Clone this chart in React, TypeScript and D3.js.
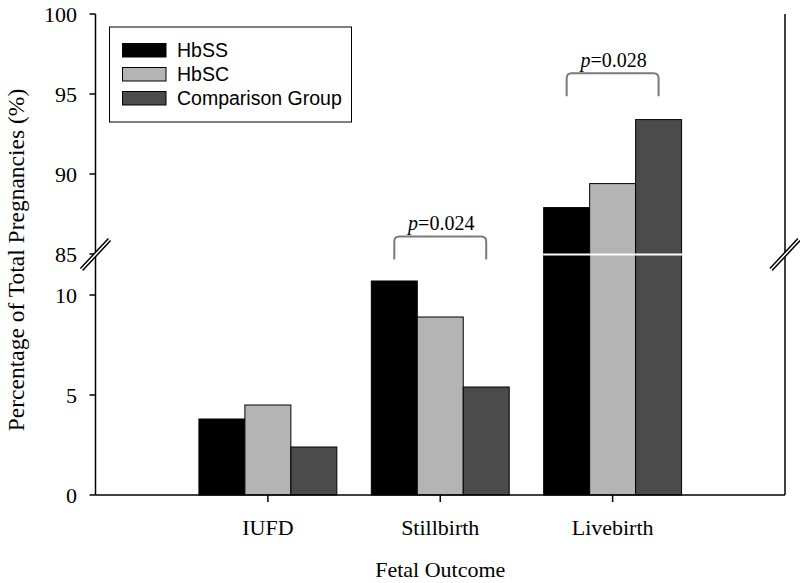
import React from "react";
import * as d3 from "d3";

const categories = ["IUFD", "Stillbirth", "Livebirth"];
const seriesNames = ["HbSS", "HbSC", "Comparison Group"];
const hbss = [3.8, 10.7, 87.9];
const hbsc = [4.5, 8.9, 89.4];
const comparison = [2.4, 5.4, 93.4];
const seriesColors = ["#000000", "#b4b4b4", "#4b4b4b"];
const lowerTicks = [0, 5, 10];
const upperTicks = [85, 90, 95, 100];
const lowerDomain = [0, 12];
const upperDomain = [85, 100];
const pAnnotations = [
  { cat: 1, from: 0, to: 2, label: "=0.024", top: 86.1 },
  { cat: 2, from: 0, to: 2, label: "=0.028", top: 96.3 },
];

const W = 800;
const H = 583;
const left = 95.5;
const right = 785;
const bottom = 495;
const top = 14;
const breakY = 254.5;

export default function App() {
  const x = d3.scaleLinear().domain([0, categories.length + 1]).range([left, right]);
  const yLow = d3.scaleLinear().domain(lowerDomain).range([bottom, 255]);
  const yUp = d3.scaleLinear().domain(upperDomain).range([254, top]);
  const yv = (v: number) => (v <= lowerDomain[1] ? yLow(v) : yUp(v));
  const series = [hbss, hbsc, comparison];
  const groupW = 0.8;
  const barW = groupW / series.length;
  const barX = (ci: number, si: number) => x(ci + 1 - groupW / 2 + si * barW);
  const serif = "'Liberation Serif', 'Times New Roman', serif";
  const sans = "'Liberation Sans', Arial, sans-serif";

  const breakMark = (cx: number) => (
    <g>
      <line x1={cx - 14} y1={breakY + 15} x2={cx + 14} y2={breakY - 15} stroke="#000" strokeWidth={4.5} />
      <line x1={cx - 14.5} y1={breakY + 15.5} x2={cx + 14.5} y2={breakY - 15.5} stroke="#fff" strokeWidth={1.5} />
    </g>
  );

  return (
    <svg width={W} height={H} style={{ position: "absolute", left: 0, top: 0, background: "#fff" }}>
      <rect width={W} height={H} fill="#fff" />
      {categories.map((c, ci) => (
        <g key={c}>
          {series.map((s, si) => {
            const v = s[ci];
            const x0 = barX(ci, si);
            const x1 = barX(ci, si + 1);
            return (
              <rect key={si} x={x0} y={yv(v)} width={x1 - x0} height={bottom - yv(v)}
                fill={seriesColors[si]} stroke="#000" strokeWidth={1} />
            );
          })}
          {series.some((s) => s[ci] > lowerDomain[1]) && (
            <line x1={barX(ci, 0) - 0.5} x2={barX(ci, series.length) + 0.5} y1={breakY} y2={breakY} stroke="#fff" strokeWidth={2} />
          )}
        </g>
      ))}
      <line x1={left} x2={left} y1={top} y2={bottom} stroke="#000" strokeWidth={1.5} />
      <line x1={right} x2={right} y1={top} y2={bottom} stroke="#000" strokeWidth={1.5} />
      <line x1={left} x2={right} y1={bottom} y2={bottom} stroke="#000" strokeWidth={1.5} />
      {lowerTicks.map((t) => (
        <g key={"l" + t}>
          <line x1={left - 6} x2={left} y1={yLow(t)} y2={yLow(t)} stroke="#000" strokeWidth={1.5} />
          <text x={77} y={yLow(t)} dy="0.35em" textAnchor="end" fontFamily={serif} fontSize={22}>{t}</text>
        </g>
      ))}
      {upperTicks.map((t) => (
        <g key={"u" + t}>
          <line x1={left - 6} x2={left} y1={yUp(t)} y2={yUp(t)} stroke="#000" strokeWidth={1.5} />
          <text x={77} y={yUp(t)} dy="0.35em" textAnchor="end" fontFamily={serif} fontSize={22}>{t}</text>
        </g>
      ))}
      {categories.map((c, ci) => (
        <g key={"x" + c}>
          <line x1={x(ci + 1)} x2={x(ci + 1)} y1={bottom} y2={bottom + 7} stroke="#000" strokeWidth={1.5} />
          <text x={x(ci + 1)} y={535} textAnchor="middle" fontFamily={serif} fontSize={22}>{c}</text>
        </g>
      ))}
      {breakMark(left)}
      {breakMark(right)}
      <text x={(left + right) / 2} y={577} textAnchor="middle" fontFamily={serif} fontSize={22}>Fetal Outcome</text>
      <text transform={`translate(24, 260) rotate(-90)`} textAnchor="middle" fontFamily={serif} fontSize={23.5}>
        Percentage of Total Pregnancies (%)
      </text>
      {pAnnotations.map((a, i) => {
        const xa = x(a.cat + 1 - groupW / 2 + (a.from + 0.5) * barW);
        const xb = x(a.cat + 1 - groupW / 2 + (a.to + 0.5) * barW);
        const yt = yUp(a.top);
        const leg = 23;
        const r = 5;
        const d = `M${xa},${yt + leg} L${xa},${yt + r} Q${xa},${yt} ${xa + r},${yt} L${xb - r},${yt} Q${xb},${yt} ${xb},${yt + r} L${xb},${yt + leg}`;
        return (
          <g key={"p" + i}>
            <path d={d} fill="none" stroke="#7a7a7a" strokeWidth={2} />
            <text x={(xa + xb) / 2 + 1} y={yt - 6.5} textAnchor="middle" fontFamily={serif} fontSize={20}>
              <tspan fontStyle="italic">p</tspan>{a.label}
            </text>
          </g>
        );
      })}
      <rect x={109.5} y={27} width={242} height={95} fill="#fff" stroke="#000" strokeWidth={1} />
      {seriesNames.map((n, i) => (
        <g key={n}>
          <rect x={122.5} y={43.5 + i * 24} width={43.5} height={13.5} fill={seriesColors[i]} stroke="#000" strokeWidth={1} />
          <text x={177} y={57 + i * 24} fontFamily={sans} fontSize={19.5}>{n}</text>
        </g>
      ))}
    </svg>
  );
}
